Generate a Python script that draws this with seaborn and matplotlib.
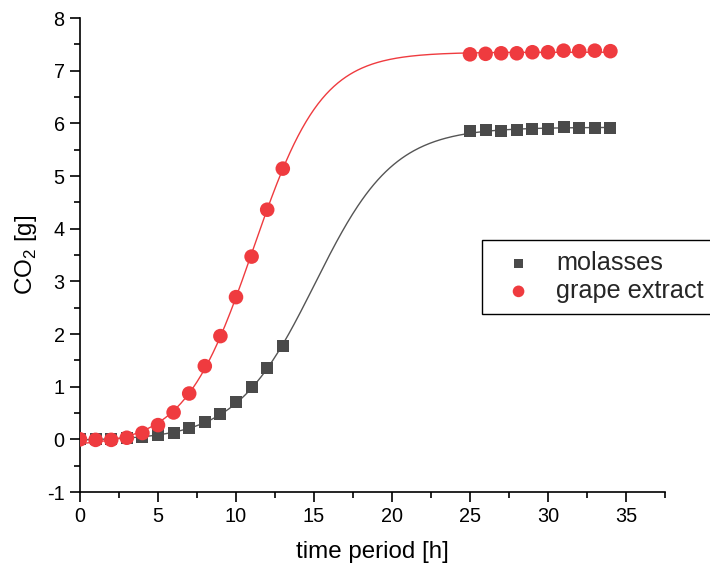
import numpy as np
import pandas as pd
import matplotlib
matplotlib.use("Agg")
import matplotlib.pyplot as plt
import seaborn as sns
from matplotlib.ticker import MultipleLocator

# ---- data ----
time_h = [0, 1, 2, 3, 4, 5, 6, 7, 8, 9, 10, 11, 12, 13,
          25, 26, 27, 28, 29, 30, 31, 32, 33, 34]
molasses = [0.00, 0.00, 0.00, 0.02, 0.04, 0.08, 0.12, 0.21, 0.32, 0.49, 0.70, 0.99, 1.35, 1.77,
            5.86, 5.87, 5.86, 5.88, 5.89, 5.89, 5.93, 5.91, 5.91, 5.91]
grape_extract = [0.00, -0.01, -0.01, 0.03, 0.12, 0.27, 0.51, 0.87, 1.39, 1.96, 2.70, 3.47, 4.36, 5.14,
                 7.31, 7.32, 7.33, 7.33, 7.35, 7.35, 7.38, 7.37, 7.38, 7.37]

series_names = ["molasses", "grape extract"]
x_ticks = [0, 5, 10, 15, 20, 25, 30, 35]
y_ticks = [-1, 0, 1, 2, 3, 4, 5, 6, 7, 8]


def boltzmann_fit(x, y):
    """Least-squares Boltzmann sigmoid fit (grid search on x0, dx; linear in A1, A2)."""
    x = np.asarray(x, float)
    y = np.asarray(y, float)
    best = None
    for x0 in np.linspace(5, 25, 401):
        for dx in np.linspace(0.5, 6, 221):
            s = 1.0 / (1.0 + np.exp((x - x0) / dx))
            M = np.column_stack([s, 1 - s])
            coef, *_ = np.linalg.lstsq(M, y, rcond=None)
            r = np.sum((M @ coef - y) ** 2)
            if best is None or r < best[0]:
                best = (r, x0, dx, coef)
    _, x0, dx, (a1, a2) = best
    return lambda t: a2 + (a1 - a2) / (1.0 + np.exp((t - x0) / dx))


sns.set_theme(style="ticks")
plt.rcParams["font.family"] = ["Liberation Sans", "DejaVu Sans"]
plt.rcParams["axes.unicode_minus"] = False
plt.rcParams["mathtext.fontset"] = "custom"
plt.rcParams["mathtext.rm"] = "Liberation Sans"

fig = plt.figure(figsize=(7.10, 5.67), dpi=100)
ax = fig.add_axes([80 / 710, 1 - 492 / 567, (665 - 80) / 710, (492 - 18) / 567])

c_mol = "#4a4a4a"
c_grape = "#ef3b3f"

t_fit = np.linspace(0, 34, 400)
f_mol = boltzmann_fit(time_h, molasses)
f_grape = boltzmann_fit(time_h, grape_extract)

sns.lineplot(x=t_fit, y=f_mol(t_fit), ax=ax, color="#555555", lw=1.0, zorder=2)
sns.lineplot(x=t_fit, y=f_grape(t_fit), ax=ax, color=c_grape, lw=1.0, zorder=2)

sns.scatterplot(x=time_h, y=molasses, ax=ax, marker="s", s=75, color=c_mol,
                edgecolor="none", label=series_names[0], zorder=3)
sns.scatterplot(x=time_h, y=grape_extract, ax=ax, marker="o", s=110, color=c_grape,
                edgecolor="none", label=series_names[1], zorder=3)

ax.set_xlim(0, 37.5)
ax.set_ylim(-1, 8)
ax.set_xticks(x_ticks)
ax.set_yticks(y_ticks)
ax.xaxis.set_minor_locator(MultipleLocator(2.5))
ax.yaxis.set_minor_locator(MultipleLocator(0.5))
ax.tick_params(which="major", direction="out", length=7, width=1.2, color="black",
               labelsize=14.3, labelcolor="black", pad=4)
ax.tick_params(which="minor", direction="out", length=4, width=1.2, color="black")

for side in ["top", "right"]:
    ax.spines[side].set_visible(False)
for side in ["left", "bottom"]:
    ax.spines[side].set_color("black")
    ax.spines[side].set_linewidth(1.2)

ax.set_xlabel("time period [h]", fontsize=17.4, color="black", labelpad=10.5)
ax.set_ylabel("CO$_\\mathrm{2}$ [g]", fontsize=17.4, color="black", labelpad=5.5)

leg = ax.legend(loc="upper left", bbox_to_anchor=(0.687, 0.532), fontsize=18.2,
                frameon=True, fancybox=False, edgecolor="black", framealpha=1,
                borderaxespad=0, handletextpad=0.5, borderpad=0.45,
                labelspacing=0.15, markerscale=0.8)
leg.get_frame().set_linewidth(1.0)

fig.savefig("out.png", dpi=100)
